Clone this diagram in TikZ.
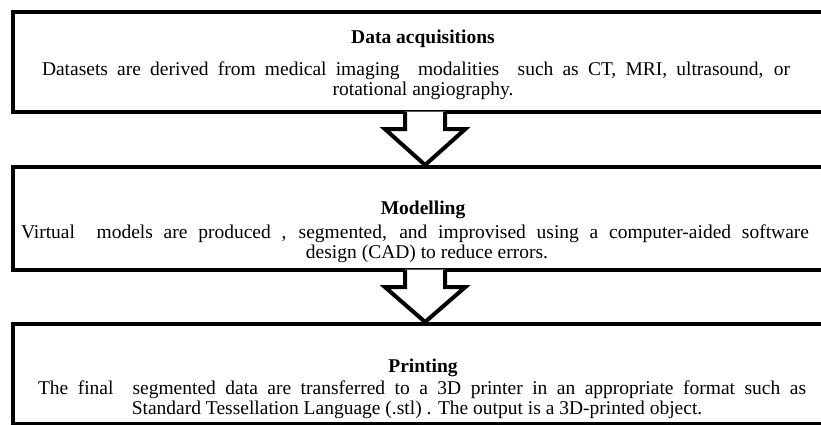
\documentclass[tikz,border=0pt]{standalone}
\usepackage{fontspec}
\setmainfont{Liberation Serif}
\usetikzlibrary{calc}
\begin{document}
\begin{tikzpicture}[x=1pt,y=-1pt,
  box/.style={draw=black,line width=4.2pt,fill=white,rectangle,inner sep=0pt,anchor=north west},
  head/.style={font=\bfseries\fontsize{19.5}{20}\selectfont,anchor=base,inner sep=0pt},
  body/.style={font=\fontsize{19.5}{20}\selectfont,anchor=base,inner sep=0pt},
  arrowline/.style={draw=black,line width=4pt,line join=miter},
]
\useasboundingbox (0,0) rectangle (821,424);
\clip (0,0) rectangle (821,424);

% three stage boxes (right sides run past the page edge)
\node[box,minimum width=824pt,minimum height=100pt] (b1) at (11,10) {};
\node[box,minimum width=824pt,minimum height=103pt] (b2) at (11,165) {};
\node[box,minimum width=824pt,minimum height=100pt] (b3) at (11,322) {};

% hollow block arrows between the boxes
\foreach \s/\t in {b1/b2,b2/b3}{
  \coordinate (top) at (\s.south);
  \coordinate (tip) at (\t.north);
  \fill[white] ($(top)+(-20,-2.5)$) -- ($(top)+(-20,15)$) -- ($(top)+(-40,15)$)
     -- (tip) -- ($(top)+(40,15)$) -- ($(top)+(20,15)$) -- ($(top)+(20,-2.5)$) -- cycle;
  \draw[arrowline] ($(top)+(-20,-2.1)$) -- ($(top)+(-20,15)$) -- ($(top)+(-40,15)$)
     -- (tip) -- ($(top)+(40,15)$) -- ($(top)+(20,15)$) -- ($(top)+(20,-2.1)$);
}

% texts: full lines are spread to their set width, last lines keep natural spacing
\node[head] (t1) at (423,43) {Data acquisitions};
\node[body] (l1a) at (416,75) {\makebox[748pt][s]{Datasets are derived from medical imaging \ modalities \ such as CT, MRI, ultrasound, or}};
\node[body] (l1b) at (423,95) {rotational angiography.};

\node[head] (t2) at (423,214) {Modelling};
\node[body] (l2a) at (415,238) {\makebox[788pt][s]{Virtual \ models are produced , segmented, and improvised using a computer-aided software}};
\node[body] (l2b) at (427,258) {design (CAD) to reduce errors.};

\node[head] (t3) at (423,372) {Printing};
\node[body] (l3a) at (422,394) {\makebox[768pt][s]{The final \ segmented data are transferred to a 3D printer in an appropriate format such as}};
\node[body] (l3b) at (417,414) {Standard Tessellation Language (.stl) . The output is a 3D-printed object.};
\end{tikzpicture}
\end{document}
